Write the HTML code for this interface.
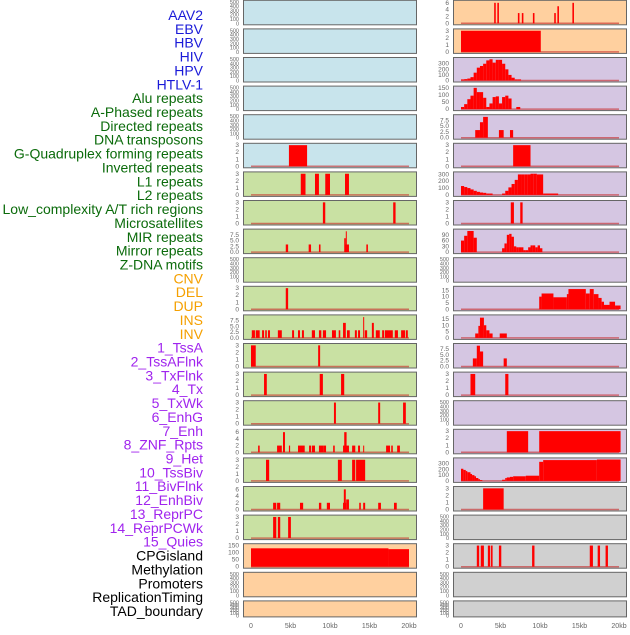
<!DOCTYPE html>
<html><head><meta charset="utf-8"><style>
body{margin:0;background:#fff;width:630px;height:630px;overflow:hidden}
svg text{font-family:"Liberation Sans",sans-serif}
</style></head><body>
<svg id="chart" width="630" height="630" viewBox="0 0 630 630" xmlns="http://www.w3.org/2000/svg"></svg>
<script>
const trackLabels = ["AAV2","EBV","HBV","HIV","HPV","HTLV-1","Alu repeats","A-Phased repeats","Directed repeats","DNA transposons","G-Quadruplex forming repeats","Inverted repeats","L1 repeats","L2 repeats","Low_complexity A/T rich regions","Microsatellites","MIR repeats","Mirror repeats","Z-DNA motifs","CNV","DEL","DUP","INS","INV","1_TssA","2_TssAFlnk","3_TxFlnk","4_Tx","5_TxWk","6_EnhG","7_Enh","8_ZNF_Rpts","9_Het","10_TssBiv","11_BivFlnk","12_EnhBiv","13_ReprPC","14_ReprPCWk","15_Quies","CPGisland","Methylation","Promoters","ReplicationTiming","TAD_boundary"];
const labelColors = ["#1a1ad8","#0b6b0b","#f5a000","#a024ee","#000"];
const labelGroupSizes = [6,13,5,15,5];
const xTickValues = [0,5,10,15,20];
const xTickLabels = ["0","5kb","10kb","15kb","20kb"];
const ticks3 = [0,1,2,3];
const ticks6 = [0,2,4,6];
const ticks75 = [0,2.5,5,7.5];
const ticks75Labels = ["0.0","2.5","5.0","7.5"];
const ticks300 = [0,100,200,300];
const ticks150 = [0,50,100,150];
const ticks90 = [0,30,60,90];
const ticks15 = [0,5,10,15];
const ticks500 = [0,100,200,300,400,500];

// interval series: [startKb, endKb, value]
const r0Right = [[4.2,4.4,6],[4.6,4.8,6],[7.2,7.4,3],[7.7,7.9,3],[9.1,9.3,3],[11.8,12.0,3],[12.2,12.4,5],[14.1,14.3,6]];
const r1Right = [[0,10.1,3]];
const hivValues = [20,25,35,60,140,230,260,300,360,380,320,370,370,300,200,100,50,20,20];
const hpvValues = [15,35,70,95,150,120,120,80,15,40,85,90,40,85,95,75];
const hpvExtra = [[7.0,7.5,15]];
const r4Right = [[1.8,2.4,3.3],[2.4,2.8,6.7],[2.8,3.4,9],[4.8,5.4,3.3],[6.2,6.6,3.3]];
const r5Right = [[6.6,8.8,3]];
const r6RightA = [130,115,100,80,60,45,35,30,20,20];
const r6RightB = [20,60,110,160,220,300,300,300,300,310,310,300,300];
const r6RightC = [[10.4,12.3,20]];
const r7Right = [[6.3,6.7,3],[7.5,7.8,3]];
const r8RightA = [60,85,110,110,75];
const r8RightB = [20,45,90,95,80,30,25,25,25,10,10,25,35,35,25,35,20];
const r10Right = [[9.9,10.2,10],[10.2,11.7,12.5],[11.7,13.4,9.5],[13.4,13.6,12],[13.6,15.8,16],[15.8,16.3,12.5],[16.3,16.8,16],[16.8,17.4,12],[17.4,17.8,9],[17.8,18.1,6],[18.1,18.8,3.5],[18.8,19.5,6],[19.5,20.2,3]];
const r11Right = [[1.8,2.2,3.5],[2.2,2.4,9.5],[2.4,2.9,16],[2.9,3.2,10],[3.2,3.6,6],[3.6,4.0,3.5],[4.9,5.8,3.5]];
const r12Right = [[1.5,2.0,3.5],[2.0,2.4,9],[2.4,2.8,6.5],[5.4,5.8,3.5]];
const r13Right = [[1.2,1.8,3],[5.6,6.0,3]];
const r15Right = [[5.8,8.5,3],[9.9,20.2,3]];
const r16Right = [[0,0.3,210],[0.3,0.6,190],[0.6,0.8,170],[0.8,1.2,150],[1.2,1.4,120],[1.4,1.7,100],[1.7,1.9,80],[1.9,2.2,50],[2.2,2.4,30],[2.4,2.7,15],[5.2,5.6,20],[5.6,5.8,50],[5.8,6.2,60],[6.2,6.6,70],[6.6,8.2,80],[8.2,9.9,90],[9.9,10.4,330],[10.4,17.2,360],[17.2,20.2,370]];
const r17Right = [[2.8,5.4,3]];
const r19Right = [[2.0,2.3,3],[2.5,2.9,3],[3.4,3.7,3],[3.8,4.0,3],[4.8,5.1,3],[9.0,9.3,3],[16.3,16.7,3],[17.3,17.6,3],[18.3,18.6,3]];

const r5Left = [[4.8,7.1,3]];
const r6Left = [[6.3,6.9,3],[8.1,8.6,3],[9.4,10.0,3],[11.9,12.4,3]];
const r7Left = [[9.1,9.4,3],[18.0,18.3,3]];
const r8Left = [[4.4,4.7,3.3],[7.3,7.6,3.3],[8.6,8.8,3.3],[11.9,12.4,3.3],[11.8,12.0,6],[12.0,12.1,9],[14.6,14.8,3.3]];
const r10Left = [[4.4,4.7,3]];
const r11Left = [[0.1,0.5,3.3],[0.6,1.1,3.3],[1.4,1.65,3.3],[1.8,2.0,3.3],[2.15,2.4,3.3],[3.4,3.9,3.3],[5.2,5.45,3.3],[5.95,6.2,3.3],[6.45,6.7,3.3],[7.7,8.1,3.3],[8.6,8.9,3.3],[9.1,9.5,3.3],[10.25,10.75,3.3],[11.1,11.3,3.3],[11.65,12.0,6.5],[12.15,12.5,3.3],[13.15,13.4,3.3],[13.55,13.8,3.3],[14.2,14.3,9],[14.4,14.7,3.3],[15.3,15.55,6.5],[15.8,16.3,3.3],[16.6,16.85,3.3],[16.95,17.95,3.3],[18.2,18.6,3.3],[19.0,19.5,3.3],[19.6,19.85,3.3]];
const r12Left = [[0,0.6,3],[8.5,8.75,3]];
const r13Left = [[1.65,2.0,3],[8.7,9.1,3],[11.4,11.8,3]];
const r14Left = [[10.5,10.75,3],[16.1,16.35,3],[19.25,19.6,3]];
const r15Left = [[0.9,1.1,2],[3.3,3.9,2],[4.05,4.3,6],[4.8,4.95,2],[5.95,6.8,2],[7.35,7.6,2],[7.7,8.1,2],[8.6,9.2,2],[9.2,9.5,2],[10.4,10.6,2],[11.65,12.4,2],[11.8,12.1,6],[12.8,13.2,2],[13.55,13.8,2],[14.2,14.3,2],[17.1,17.6,2],[17.75,17.95,2],[18.5,18.85,2]];
const r16Left = [[1.9,2.3,3],[11.0,11.5,3],[12.8,13.2,3],[13.3,14.45,3]];
const r17Left = [[2.8,3.2,2],[3.3,3.7,2],[6.2,6.6,2],[8.6,8.9,2],[9.6,10.0,2],[11.65,12.05,2],[11.75,12.0,6],[12.05,12.4,3],[13.7,13.9,2],[14.2,14.45,2],[16.1,16.45,2],[18.1,18.45,2]];
const r18Left = [[4.7,5.05,3],[2.8,3.2,3],[3.4,3.7,3]];
const cpgValues = [[0,17.4,130],[17.4,20,124]];

function bins(start,width,vals){return vals.map((v,i)=>[start+i*width,start+(i+1)*width,v]);}

const S = "http://www.w3.org/2000/svg";
const svg = document.getElementById('chart');
function mk(tag,attrs,parent){const e=document.createElementNS(S,tag);for(const k in attrs)e.setAttribute(k,attrs[k]);(parent||svg).appendChild(e);return e;}

const BLUE="#c8e4ec",GREEN="#c9e1a3",PEACH="#ffd09f",PURPLE="#d5c6e2",GRAY="#d0d0d0";
const T3={t:ticks3,d:3.05},T6={t:ticks6,d:6.4},T75={t:ticks75,l:ticks75Labels,d:9.3},T500={t:ticks500,d:500};
const panels = [];
function P(row,col,fill,sc,series){panels.push({row,col,fill,sc,series});}
for(let r=0;r<5;r++)P(r,0,BLUE,T500,null);
P(5,0,BLUE,T3,r5Left);
P(6,0,GREEN,T3,r6Left);P(7,0,GREEN,T3,r7Left);P(8,0,GREEN,T75,r8Left);
P(9,0,GREEN,T500,null);P(10,0,GREEN,T3,r10Left);P(11,0,GREEN,T75,r11Left);
P(12,0,GREEN,T3,r12Left);P(13,0,GREEN,T3,r13Left);P(14,0,GREEN,T3,r14Left);
P(15,0,GREEN,T6,r15Left);P(16,0,GREEN,T3,r16Left);P(17,0,GREEN,T6,r17Left);P(18,0,GREEN,T3,r18Left);
P(19,0,PEACH,{t:ticks150,d:152},cpgValues);P(20,0,PEACH,T500,null);P(21,0,PEACH,T500,null);
P(0,1,PEACH,{t:ticks6,d:6.3},r0Right);P(1,1,PEACH,T3,r1Right);
P(2,1,PURPLE,{t:ticks300,d:385},bins(0,0.4,hivValues));
P(3,1,PURPLE,{t:ticks150,d:152},bins(0,0.4,hpvValues).concat(hpvExtra));
P(4,1,PURPLE,T75,r4Right);P(5,1,PURPLE,T3,r5Right);
P(6,1,PURPLE,{t:ticks300,d:315},bins(0,0.4,r6RightA).concat(bins(5.2,0.4,r6RightB),r6RightC));
P(7,1,PURPLE,T3,r7Right);
P(8,1,PURPLE,{t:ticks90,d:112},bins(0,0.4,r8RightA).concat(bins(5.2,0.3,r8RightB)));
P(9,1,PURPLE,T500,null);P(10,1,PURPLE,{t:ticks15,d:17},r10Right);
P(11,1,PURPLE,{t:ticks15,d:17},r11Right);P(12,1,PURPLE,T75,r12Right);P(13,1,PURPLE,T3,r13Right);
P(14,1,PURPLE,T500,null);P(15,1,PURPLE,T3,r15Right);P(16,1,PURPLE,{t:ticks300,d:372},r16Right);
P(17,1,GRAY,T3,r17Right);P(18,1,GRAY,T500,null);P(19,1,GRAY,T3,r19Right);P(20,1,GRAY,T500,null);P(21,1,GRAY,T500,null);

// labels
let li=0;
labelGroupSizes.forEach((n,g)=>{for(let k=0;k<n;k++,li++){
  const t=mk('text',{x:203,y:15+li*13.86+5,'text-anchor':'end','font-size':14,fill:labelColors[g]});
  
  
  t.textContent=trackLabels[li];
}});

const colX=[243,453], PW=173;
function xScale(col,kb){return colX[col]+8+kb*7.9;}
panels.forEach(p=>{
  const T=p.row*28.6+0.3, H=p.row===21?16:24.5;
  const g=mk('g',{});
  
  
  mk('rect',{x:colX[p.col]+0.5,y:T,width:PW,height:H,fill:p.fill,stroke:'#666','stroke-width':1},g);
  const y=v=>T+H-1.5-v/p.sc.d*(H-3);
  p.sc.t.forEach((tv,i)=>{
    const t=mk('text',{x:colX[p.col]-4,y:y(tv)+2,'text-anchor':'end','font-size':p.sc===T500?5.5:6.5,fill:'#666'},g);
    
    
    t.textContent=p.sc.l?p.sc.l[i]:tv;
  });
  if(p.series){
    mk('line',{x1:xScale(p.col,0),x2:xScale(p.col,20),y1:y(0),y2:y(0),stroke:'rgba(200,40,40,0.6)','stroke-width':1.5},g);
    p.series.forEach(b=>{
      const x0=xScale(p.col,b[0]),x1=xScale(p.col,b[1]);
      const r=mk('rect',{x:x0,y:y(b[2]),width:Math.max(1,x1-x0),height:y(0)-y(b[2]),fill:'#ff0000'},g);
      
      
    });
  }
});
[0,1].forEach(col=>xTickValues.forEach((v,i)=>{
  const t=mk('text',{x:xScale(col,v),y:628,'text-anchor':'middle','font-size':7,fill:'#666'});
  
  
  t.textContent=xTickLabels[i];
}));
</script>
</body></html>
